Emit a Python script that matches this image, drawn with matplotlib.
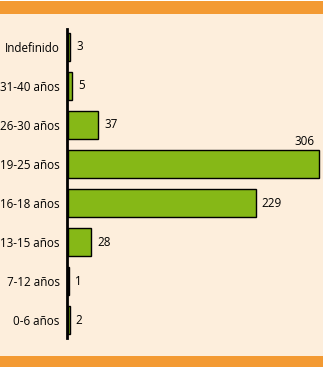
import matplotlib
matplotlib.use("Agg")
import matplotlib.pyplot as plt
from matplotlib.patches import Rectangle

categories = ["Indefinido", "31-40 años", "26-30 años", "19-25 años",
              "16-18 años", "13-15 años", "7-12 años", "0-6 años"]
values = [3, 5, 37, 306, 229, 28, 1, 2]

W, H = 325, 370
fig = plt.figure(figsize=(W / 100, H / 100), dpi=100)
fig.patch.set_facecolor("white")
bg = "#FDEEDC"
orange = "#F39A33"
fig.patches.append(Rectangle((0, 3 / H), 323 / W, 364 / H, transform=fig.transFigure,
                             facecolor=bg, edgecolor="none", zorder=-10))
fig.patches.append(Rectangle((0, (H - 14) / H), 323 / W, 13 / H, transform=fig.transFigure,
                             facecolor=orange, edgecolor="none", zorder=-9))
fig.patches.append(Rectangle((0, 3 / H), 323 / W, 11 / H, transform=fig.transFigure,
                             facecolor=orange, edgecolor="none", zorder=-9))

ax_left, ax_right = 68, 323
ax_top, ax_bot = 29, 338
ax = fig.add_axes([ax_left / W, (H - ax_bot) / H, (ax_right - ax_left) / W, (ax_bot - ax_top) / H])
ax.set_facecolor("none")
for s in ["top", "right", "bottom"]:
    ax.spines[s].set_visible(False)
ax.spines["left"].set_position(("outward", 1))
ax.spines["left"].set_linewidth(2)
ax.spines["left"].set_color("black")
ax.spines["left"].set_zorder(4)

scale = 251 / 306
ax.set_xlim(0, (ax_right - ax_left) / scale)
n = len(categories)
ax.set_ylim(n - 0.54, -0.46)

ypos = list(range(n))
ax.barh(ypos, values, height=0.7, color="#86B817", edgecolor="black", linewidth=1.0, zorder=3)

font = "Open Sans"
fs = 8.4
for y, v in zip(ypos, values):
    if v == max(values):
        ax.text(v - 6, y - 0.42, str(v), ha="right", va="bottom", fontsize=fs,
                family=font, color="#000000")
    else:
        ax.text(v + 6 / scale, y, str(v), ha="left", va="center", fontsize=fs,
                family=font, color="#000000")

ax.set_yticks(ypos)
ax.set_yticklabels(categories, fontsize=fs, family=font, color="#000000")
ax.tick_params(axis="y", length=0, pad=5)
ax.set_xticks([])

fig.savefig("out.png", dpi=100)
